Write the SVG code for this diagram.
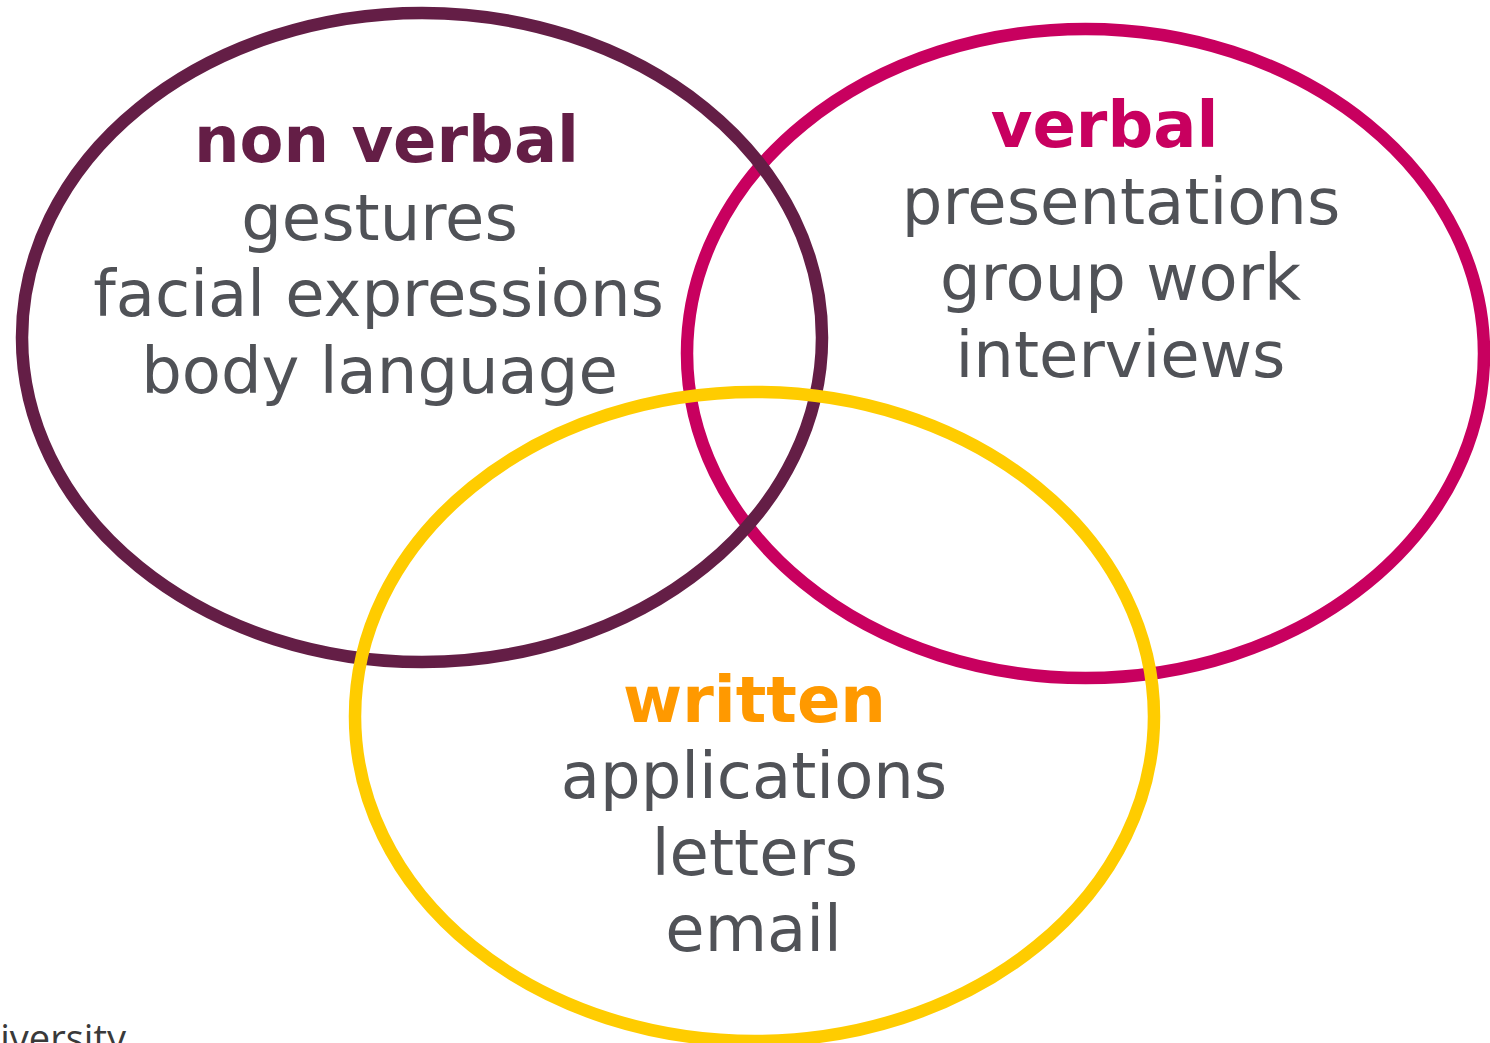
<svg xmlns="http://www.w3.org/2000/svg" width="1490" height="1043" viewBox="0 0 1490 1043">
<style>
  .ring { fill: none; stroke-width: 12.5; }
  .t { font-family: "DejaVu Sans", Verdana, sans-serif; font-size: 64px; text-anchor: middle; }
  .title { font-weight: bold; }
  .body { fill: #505257; }
</style>
<rect width="1490" height="1043" fill="#ffffff"/>
<g id="connectors"></g>
<g id="verbal">
  <ellipse class="ring" cx="1085.5" cy="353.5" rx="398.5" ry="324.5" stroke="#C8005F"/>
</g>
<g id="non-verbal">
  <ellipse class="ring" cx="422" cy="337.5" rx="400" ry="324.5" stroke="#641E46"/>
</g>
<g id="written">
  <ellipse class="ring" cx="754.5" cy="716.5" rx="399.5" ry="324.5" stroke="#FFCC00"/>
</g>
<g id="non-verbal-text">
  <text class="t title" x="386.5" y="162" fill="#641E46">non verbal</text>
  <text class="t body" x="379.5" y="240">gestures</text>
  <text class="t body" x="378.5" y="316">facial expressions</text>
  <text class="t body" x="379.5" y="393">body language</text>
</g>
<g id="verbal-text">
  <text class="t title" x="1104.5" y="147" fill="#C8005F">verbal</text>
  <text class="t body" x="1121" y="224">presentations</text>
  <text class="t body" x="1120.5" y="300">group work</text>
  <text class="t body" x="1120.5" y="377">interviews</text>
</g>
<g id="written-text">
  <text class="t title" x="754.5" y="722" fill="#FF9900">written</text>
  <text class="t body" x="754" y="798">applications</text>
  <text class="t body" x="755" y="875">letters</text>
  <text class="t body" x="753.5" y="951">email</text>
</g>
<text x="126" y="1052" font-family="Open Sans, sans-serif" font-size="38" text-anchor="end" fill="#3a3a3a">University</text>
</svg>
